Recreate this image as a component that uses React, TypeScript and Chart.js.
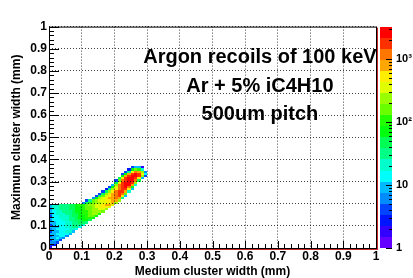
import { useEffect, useRef } from 'react';
import { Chart, registerables } from 'chart.js';

Chart.register(...registerables);

// ---------------- data ----------------
const xTickLabels = ['0', '0.1', '0.2', '0.3', '0.4', '0.5', '0.6', '0.7', '0.8', '0.9', '1'];
const yTickLabels = ['0', '0.1', '0.2', '0.3', '0.4', '0.5', '0.6', '0.7', '0.8', '0.9', '1'];
const zTickValues = [1, 10, 100, 1000];
const zTickLabels = ['1', '10', '10\u00B2', '10\u00B3'];
const zMin = 1;
const zMax = 3300;
const binSize = 0.01; // mm, both axes

const xTitle = 'Medium cluster width (mm)';
const yTitle = 'Maximum cluster width (mm)';
const textLines = ['Argon recoils of 100 keV', 'Ar + 5% iC4H10', '500um pitch'];

// Lower triangle: y bins 0..19, x bins starting at 0
const triangleCounts: number[][] = [
  [2],
  [5, 3],
  [7, 7, 4],
  [4, 9, 10, 5],
  [8, 8, 12, 11, 6],
  [5, 10, 11, 14, 13, 6],
  [9, 8, 12, 13, 16, 14, 8],
  [4, 10, 11, 15, 15, 18, 18, 10],
  [7, 8, 13, 14, 17, 17, 22, 22, 12],
  [9, 9, 11, 15, 16, 19, 21, 28, 28, 16],
  [5, 10, 12, 13, 17, 18, 23, 27, 35, 36, 21],
  [8, 9, 13, 15, 17, 21, 24, 32, 37, 50, 53, 31],
  [6, 12, 16, 17, 20, 22, 28, 32, 43, 53, 72, 77, 42],
  [8, 12, 16, 20, 21, 25, 29, 38, 46, 60, 75, 104, 104, 58],
  [4, 14, 17, 20, 24, 25, 32, 39, 50, 62, 85, 109, 140, 146, 81],
  [7, 12, 20, 21, 24, 29, 33, 44, 53, 69, 89, 123, 147, 195, 198, 111],
  [9, 16, 19, 24, 27, 29, 38, 45, 59, 72, 98, 126, 163, 205, 264, 269, 152],
  [6, 19, 22, 26, 29, 32, 41, 49, 63, 80, 105, 141, 177, 226, 286, 357, 367, 226],
  [8, 18, 25, 27, 32, 36, 45, 54, 68, 86, 113, 153, 191, 245, 306, 387, 495, 547, 328],
  [10, 19, 24, 28, 32, 36, 45, 55, 69, 88, 116, 155, 196, 254, 321, 405, 520, 730, 783, 330],
];

// Upper band: y bins 20..36, each row starts at x bin bandStartBin[i]
const bandFirstRow = 20;
const bandStartBin = [10, 11, 13, 14, 15, 16, 17, 18, 19, 20, 20, 21, 22, 22, 23, 24, 25];
const bandCounts: number[][] = [
  [6, 40, 110, 180, 230, 280, 340, 420, 520, 700, 250],
  [5, 30, 130, 230, 300, 380, 480, 620, 800, 950, 200],
  [6, 60, 230, 380, 520, 700, 950, 1250, 800, 30],
  [5, 45, 170, 400, 650, 900, 1300, 1500, 500, 10],
  [5, 40, 200, 480, 800, 1250, 1700, 1400, 150],
  [5, 50, 280, 650, 1200, 1800, 2000, 900, 20],
  [3, 30, 200, 550, 1300, 2100, 2100, 450, 10],
  [4, 60, 400, 1100, 2000, 2500, 1300, 80],
  [10, 200, 1000, 2000, 2600, 2400, 900, 20],
  [40, 500, 1600, 2400, 2800, 2000, 250],
  [5, 150, 1100, 2100, 2900, 2600, 1300, 40],
  [40, 600, 1800, 2800, 3000, 2200, 600, 10],
  [80, 800, 2200, 3000, 2600, 1500, 250, 5],
  [5, 80, 700, 2000, 2600, 1800, 450, 15],
  [4, 30, 500, 1100, 900, 200, 6],
  [3, 60, 150, 120, 20],
  [4, 10, 8, 2],
];

// ---------------- helpers ----------------
const FONT = '"Liberation Sans", Arial, Helvetica, sans-serif';
const N_BANDS = 20;

function bandIndex(v: number): number {
  if (v < zMin) return -1;
  const L = Math.log10(zMax / zMin);
  let j = Math.floor((Math.log10(v / zMin) / L) * N_BANDS);
  if (j < 0) j = 0;
  if (j > N_BANDS - 1) j = N_BANDS - 1;
  return j;
}

function bandColor(j: number): string {
  // ROOT "pretty palette" (50 colours, hue 280 -> 0), picked for 20 contours
  const idx = Math.floor((j + 0.99) * 50 / N_BANDS);
  const hue = 280 - (idx + 1) * (280 / 50);
  return `hsl(${hue.toFixed(1)}, 100%, 50%)`;
}

type Cell = { x: number; y: number; v: number };

function buildCells(): Cell[] {
  const cells: Cell[] = [];
  triangleCounts.forEach((row, r) => {
    row.forEach((v, c) => {
      cells.push({ x: (c + 0.5) * binSize, y: (r + 0.5) * binSize, v });
    });
  });
  bandCounts.forEach((row, i) => {
    const r = bandFirstRow + i;
    row.forEach((v, k) => {
      const c = bandStartBin[i] + k;
      cells.push({ x: (c + 0.5) * binSize, y: (r + 0.5) * binSize, v });
    });
  });
  return cells;
}

const heatmapPlugin = {
  id: 'heatmap',
  beforeDatasetsDraw(chart: any) {
    const ctx = chart.ctx;
    const xs = chart.scales.x;
    const ys = chart.scales.y;
    const data: Cell[] = chart.data.datasets[0].data;
    ctx.save();
    for (const p of data) {
      const j = bandIndex(p.v);
      if (j < 0) continue;
      const x0 = Math.round(xs.getPixelForValue(p.x - binSize / 2));
      const x1 = Math.round(xs.getPixelForValue(p.x + binSize / 2));
      const y0 = Math.round(ys.getPixelForValue(p.y + binSize / 2));
      const y1 = Math.round(ys.getPixelForValue(p.y - binSize / 2));
      ctx.fillStyle = bandColor(j);
      ctx.fillRect(x0, y0, x1 - x0, y1 - y0);
    }
    ctx.restore();
  },
};

const decorPlugin = {
  id: 'decor',
  afterDraw(chart: any) {
    const ctx = chart.ctx;
    const { left: L, right: R, top: T, bottom: B } = chart.chartArea;
    const xs = chart.scales.x;
    const ys = chart.scales.y;
    const zs = chart.scales.z;
    ctx.save();

    // frame
    ctx.strokeStyle = '#000';
    ctx.lineWidth = 1;
    ctx.strokeRect(L + 0.5, T + 0.5, R - L, B - T);
    ctx.strokeStyle = 'rgb(200,40,40)';
    ctx.beginPath();
    ctx.moveTo(L, B + 1.5);
    ctx.lineTo(R + 2, B + 1.5);
    ctx.moveTo(R + 1.5, T + 1);
    ctx.lineTo(R + 1.5, B + 2);
    ctx.stroke();

    // inner ticks
    ctx.strokeStyle = '#000';
    ctx.beginPath();
    for (let i = 0; i <= 50; i++) {
      const v = i * 0.02;
      const major = i % 5 === 0;
      const py = Math.round(ys.getPixelForValue(v)) + 0.5;
      ctx.moveTo(L, py);
      ctx.lineTo(L + (major ? 10 : 5), py);
      const px = Math.round(xs.getPixelForValue(v)) + 0.5;
      ctx.moveTo(px, B);
      ctx.lineTo(px, B - (major ? 7 : 4));
    }
    ctx.stroke();

    // colour bar
    const cbL = R + 4;
    const cbR = R + 16;
    const Lz = Math.log10(zMax / zMin);
    for (let j = 0; j < N_BANDS; j++) {
      const vLo = zMin * Math.pow(10, (j * Lz) / N_BANDS);
      const vHi = zMin * Math.pow(10, ((j + 1) * Lz) / N_BANDS);
      const yLo = Math.round(zs.getPixelForValue(vLo));
      const yHi = Math.round(zs.getPixelForValue(vHi));
      ctx.fillStyle = bandColor(j);
      ctx.fillRect(cbL, yHi, cbR - cbL, yLo - yHi);
    }
    ctx.strokeStyle = '#000';
    ctx.beginPath();
    for (let d = 0; d <= 4; d++) {
      for (let k = 1; k <= 9; k++) {
        const v = k * Math.pow(10, d);
        if (v < zMin || v > zMax) continue;
        const py = Math.round(zs.getPixelForValue(v)) + 0.5;
        ctx.moveTo(cbR, py);
        ctx.lineTo(cbR - (k === 1 ? 6 : 3), py);
      }
    }
    ctx.stroke();

    // text block
    ctx.fillStyle = '#000';
    ctx.font = `bold 20px ${FONT}`;
    ctx.textAlign = 'center';
    ctx.textBaseline = 'alphabetic';
    const cx = L + 0.645 * (R - L);
    const baselines = [T + 36.5, T + 65, T + 93.5];
    textLines.forEach((t, i) => ctx.fillText(t, cx, baselines[i]));

    ctx.restore();
  },
};

export default function App() {
  const canvasRef = useRef<HTMLCanvasElement | null>(null);

  useEffect(() => {
    const canvas = canvasRef.current;
    if (!canvas) return;
    const tickFont = { family: FONT, weight: 'bold' as const, size: 12 };
    const chart = new Chart(canvas, {
      type: 'scatter',
      data: {
        datasets: [
          {
            data: buildCells() as any,
            pointRadius: 0,
            pointHoverRadius: 0,
            showLine: false,
            xAxisID: 'x',
            yAxisID: 'y',
          },
        ],
      },
      options: {
        responsive: false,
        animation: false,
        devicePixelRatio: 1,
        events: [],
        layout: { padding: { top: 13, left: 0, right: 0, bottom: 0 } },
        plugins: { legend: { display: false }, tooltip: { enabled: false }, title: { display: false } },
        scales: {
          x: {
            type: 'linear',
            position: 'bottom',
            min: 0,
            max: 1,
            afterFit: (s: any) => { s.height = 30; },
            ticks: {
              stepSize: 0.1,
              autoSkip: false,
              maxRotation: 0,
              padding: 1,
              color: '#000',
              font: tickFont,
              callback: (_v: any, i: number) => xTickLabels[i],
            },
            grid: { z: 1, color: 'rgba(0,0,0,0.75)', lineWidth: 1, drawTicks: false },
            border: { display: false, dash: [1, 2] },
            title: {
              display: true,
              text: xTitle,
              color: '#000',
              font: { family: FONT, weight: 'bold', size: 12, lineHeight: 1 },
              padding: { top: 0, bottom: 0 },
            },
          },
          y: {
            type: 'linear',
            position: 'left',
            min: 0,
            max: 1,
            afterFit: (s: any) => { s.width = 49; },
            ticks: {
              stepSize: 0.1,
              autoSkip: false,
              padding: 2,
              color: '#000',
              font: tickFont,
              callback: (_v: any, i: number) => yTickLabels[i],
            },
            grid: { z: 1, color: 'rgba(0,0,0,0.75)', lineWidth: 1, drawTicks: false },
            border: { display: false, dash: [1, 2] },
            title: {
              display: true,
              text: yTitle,
              color: '#000',
              font: { family: FONT, weight: 'bold', size: 12 },
              padding: { top: 9, bottom: 0 },
            },
          },
          z: {
            type: 'logarithmic',
            axis: 'y',
            position: 'right',
            min: zMin,
            max: zMax,
            afterFit: (s: any) => { s.width = 37; },
            afterBuildTicks: (s: any) => { s.ticks = zTickValues.map((value) => ({ value })); },
            ticks: {
              padding: 20,
              autoSkip: false,
              color: '#000',
              font: { family: FONT, weight: 'bold', size: 11 },
              callback: (_v: any, i: number) => zTickLabels[i],
            },
            grid: { display: false, drawTicks: false },
            border: { display: false },
          },
        } as any,
      },
      plugins: [heatmapPlugin, decorPlugin],
    });
    return () => chart.destroy();
  }, []);

  return (
    <div style={{ position: 'absolute', left: 0, top: 0, width: 413, height: 278, background: '#fff' }}>
      <canvas ref={canvasRef} width={413} height={278} style={{ display: 'block' }} />
    </div>
  );
}
